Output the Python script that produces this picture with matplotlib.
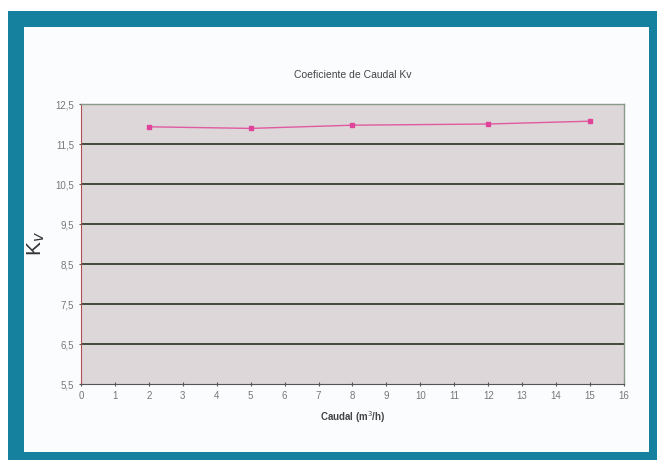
import matplotlib
matplotlib.use('Agg')
import matplotlib.pyplot as plt
from matplotlib.patches import Rectangle

plt.rcParams['font.family'] = ['Liberation Sans', 'DejaVu Sans']

caudal = [2, 5, 8, 12, 15]
kv = [11.93, 11.89, 11.97, 12.0, 12.07]
yticks = [5.5, 6.5, 7.5, 8.5, 9.5, 10.5, 11.5, 12.5]
xticks = list(range(0, 17))

W, H = 658, 462
fig = plt.figure(figsize=(W / 100, H / 100), dpi=100)
fig.patch.set_facecolor('white')

teal = '#16809f'
# marco azul
fig.patches.append(Rectangle((8 / W, 1 - 460 / H), (657 - 8) / W, (460 - 11) / H,
                             transform=fig.transFigure, facecolor=teal, edgecolor='none', zorder=-10))
fig.patches.append(Rectangle((24 / W, 1 - 452 / H), (649 - 24) / W, (452 - 27) / H,
                             transform=fig.transFigure, facecolor='#fbfcfd', edgecolor='none', zorder=-9))

ax = fig.add_axes([81 / W, 1 - 384 / H, 543 / W, 280 / H])
ax.set_zorder(5)
ax.set_facecolor('#ddd7d9')
ax.set_xlim(0, 16)
ax.set_ylim(5.5, 12.5)
ax.set_xticks(xticks)
ax.set_xticklabels([str(t) for t in xticks])
ax.set_yticks(yticks)
ax.set_yticklabels([f'{t:.1f}'.replace('.', ',') for t in yticks])

for y in yticks[1:-1]:
    ax.axhline(y, color='#33402f', lw=1.3, zorder=1)

ax.plot(caudal, kv, color='#e05aa0', lw=1.0, marker='s', ms=3.5,
        markerfacecolor='#e0449a', markeredgecolor='#e0449a', zorder=3)

for s in ['top', 'right']:
    ax.spines[s].set_color('#8a9a8a')
    ax.spines[s].set_linewidth(1.0)
ax.spines['left'].set_color('#b05050')
ax.spines['bottom'].set_color('#555555')
ax.tick_params(axis='both', labelsize=7, labelcolor='#777777', color='#555555',
               length=3, direction='inout')

ax.set_title('Coeficiente de Caudal Kv', fontsize=7.5, color='#444444', pad=19)
ax.set_xlabel('Caudal (m$^3$/h)', fontsize=7, color='#444444', fontweight='bold', labelpad=6)
ax.set_ylabel('K$_v$', fontsize=15, color='#333333', labelpad=6)

fig.savefig('out.png', dpi=100)
